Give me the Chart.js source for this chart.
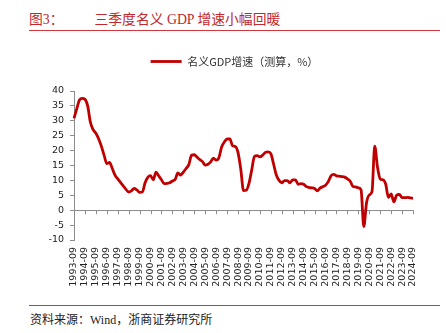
<!DOCTYPE html>
<html>
<head>
<meta charset="utf-8">
<script src="https://cdn.jsdelivr.net/npm/chart.js@4"></script>
<style>
  body { margin: 0; width: 446px; height: 333px; background: #fff; position: relative; overflow: hidden; }
  .title { position: absolute; left: 29px; top: 8px; font-size: 13.8px; color: #c0282d; font-family: "Liberation Serif", "Noto Sans CJK SC", serif; white-space: pre; }
  .title span { margin-left: 31px; }
  .rule { position: absolute; left: 29px; width: 411px; height: 1px; background: #d0373a; }
  .source { position: absolute; left: 30px; top: 310px; font-size: 12px; color: #222; font-family: "Liberation Serif", "Noto Sans CJK SC", serif; white-space: pre; }
  #wrap { position: absolute; left: 0; top: 40px; width: 446px; height: 260px; }
</style>
</head>
<body>
<div class="title">图3：<span>三季度名义 GDP 增速小幅回暖</span></div>
<div class="rule" style="top:30px"></div>
<div id="wrap"><canvas id="gdpChart" width="446" height="260"></canvas></div>
<div class="rule" style="top:305px"></div>
<div class="source">资料来源：Wind，浙商证券研究所</div>

<script>
// quarterly categories 1993-09 .. 2024-09
const quarters = [];
for (let y = 1993; y <= 2024; y++) {
    for (const m of ['03', '06', '09', '12']) {
        const q = y + '-' + m;
        if (q >= '1993-09' && q <= '2024-09') quarters.push(q);
    }
}

// 名义GDP增速（测算，%）
const nominalGdp = [
    30.8, 34.0, 37.0, 37.5, 37.2, 35.0, 29.5, 27.0, 25.8, 24.0,
    21.5, 18.5, 15.6, 16.0, 14.0, 11.8, 10.5, 9.3, 8.2, 7.0,
    6.1, 6.5, 7.3, 6.8, 6.0, 6.1, 9.2, 11.0, 11.6, 10.2,
    12.8, 11.5, 10.2, 8.9, 9.0, 9.2, 9.8, 10.3, 12.5, 11.8,
    12.8, 14.0, 15.3, 18.5, 18.6, 17.8, 17.0, 16.3, 15.1, 15.4,
    16.2, 17.5, 16.8, 17.6, 21.2, 22.9, 23.9, 23.9, 21.6, 21.4,
    19.3, 13.8, 6.6, 6.7, 9.0, 13.5, 18.0, 18.3, 17.9, 18.5,
    19.4, 19.6, 19.0, 15.5, 11.8, 10.0, 9.2, 9.9, 9.9, 9.2,
    10.2, 10.2, 8.7, 8.9, 8.7, 7.9, 7.6, 7.5, 7.3, 6.5,
    7.4, 7.9, 8.4, 9.6, 11.5, 12.0, 11.5, 11.4, 11.3, 11.1,
    10.5, 9.8, 8.0, 7.8, 7.5, 6.8, -5.5, 2.5, 5.1, 6.2,
    21.5, 14.5, 10.5, 10.2, 8.8, 4.3, 5.5, 2.8, 5.0, 5.3,
    4.2, 4.2, 4.3, 4.1, 4.0
];

const yMin = -10, yMax = 40, yStep = 5;
const lineRed = '#c00000';
const axisGrey = '#8c8c8c';

// space under the legend, and nudge it right to sit over the plot
const legendGap = {
    id: 'legendGap',
    beforeInit(chart) {
        const fit = chart.legend.fit;
        chart.legend.fit = function () {
            fit.call(this);
            this.height = 47;
        };
    },
    afterLayout(chart) {
        chart.legend.left += 28;
        chart.legend.right += 28;
    }
};

// little tick marks hanging from the zero line
const zeroTicks = {
    id: 'zeroTicks',
    beforeDatasetsDraw(chart) {
        const x = chart.scales.x, y = chart.scales.y;
        const y0 = y.getPixelForValue(0);
        const ctx = chart.ctx;
        ctx.save();
        ctx.strokeStyle = axisGrey;
        ctx.lineWidth = 1;
        ctx.beginPath();
        quarters.forEach((q, i) => {
            if (!q.endsWith('-09')) return;
            const px = Math.round(x.getPixelForValue(i)) + 0.5;
            ctx.moveTo(px, y0);
            ctx.lineTo(px, y0 + 4);
        });
        ctx.stroke();
        ctx.restore();
    }
};

const ctx = document.getElementById('gdpChart').getContext('2d');
new Chart(ctx, {
    type: 'line',
    data: {
        labels: quarters,
        datasets: [{
            label: '名义GDP增速（测算，%）',
            data: nominalGdp,
            borderColor: lineRed,
            backgroundColor: lineRed,
            borderWidth: 2.8,
            pointRadius: 0,
            cubicInterpolationMode: 'monotone',
            fill: false
        }]
    },
    options: {
        responsive: false,
        animation: false,
        devicePixelRatio: 1,
        layout: { padding: { left: 0, right: 33, top: 4, bottom: 0 } },
        plugins: {
            legend: {
                position: 'top',
                labels: {
                    usePointStyle: true,
                    pointStyle: 'line',
                    pointStyleWidth: 31,
                    padding: 12,
                    color: '#333',
                    font: { family: '"Noto Sans CJK SC", "DejaVu Sans", sans-serif', size: 11 }
                }
            },
            tooltip: { enabled: false }
        },
        scales: {
            x: {
                grid: { display: false, drawTicks: false },
                border: { display: false },
                ticks: {
                    autoSkip: false,
                    minRotation: 90,
                    maxRotation: 90,
                    padding: 7,
                    color: '#222',
                    font: { family: '"DejaVu Sans", sans-serif', size: 9.5 },
                    callback: (v, i) => quarters[i].endsWith('-09') ? quarters[i] : ''
                },
                afterFit: (s) => { s.height = 60; }
            },
            y: {
                min: yMin,
                max: yMax,
                ticks: {
                    stepSize: yStep,
                    padding: 6,
                    color: '#222',
                    font: { family: '"DejaVu Sans", sans-serif', size: 9.5 }
                },
                grid: {
                    color: (c) => c.tick && c.tick.value === 0 ? axisGrey : 'transparent',
                    tickColor: axisGrey,
                    tickLength: 4
                },
                border: { color: axisGrey },
                afterFit: (s) => { s.width = 74; }
            }
        }
    },
    plugins: [legendGap, zeroTicks]
});
</script>
</body>
</html>
